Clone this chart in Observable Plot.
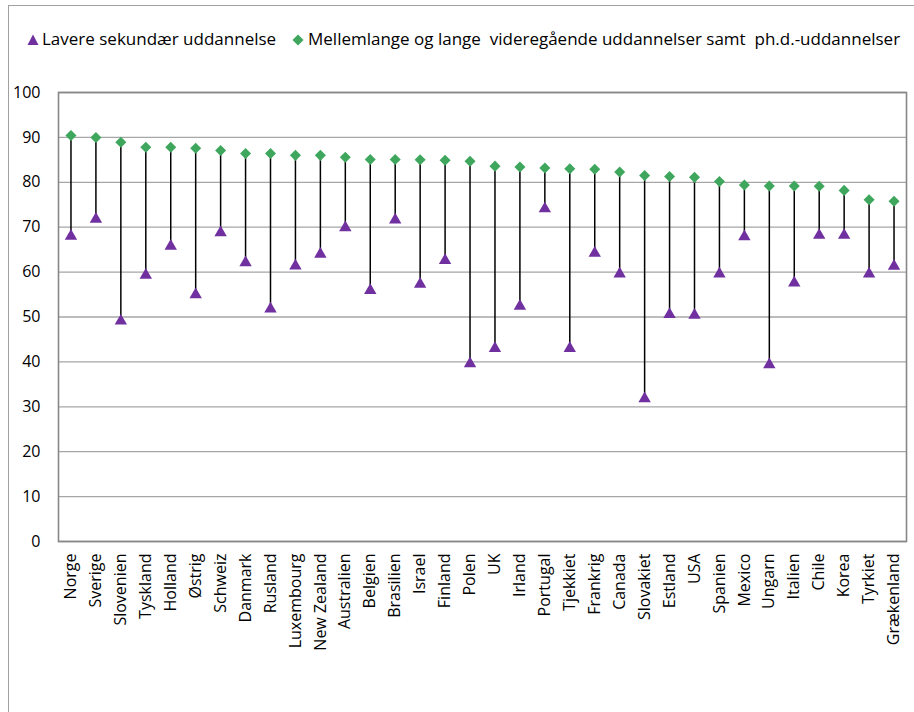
<!DOCTYPE html>
<html>
<head>
<meta charset="utf-8">
<script src="https://cdn.jsdelivr.net/npm/d3@7"></script>
<script src="https://cdn.jsdelivr.net/npm/@observablehq/plot@0.6"></script>
<style>
  html, body { margin: 0; padding: 0; background: white; }
  #wrap { position: relative; width: 914px; height: 712px; overflow: hidden; font-family: "Open Sans", sans-serif; }
  #border { position: absolute; left: 8px; top: 5px; right: -2px; bottom: -2px; border-left: 1px solid #a0a0a0; border-top: 1px solid #a0a0a0; }
  #legend { position: absolute; left: 0; top: 0; width: 914px; height: 70px; font-size: 17px; color: #000; }
  .lg { position: absolute; top: 28px; line-height: 22px; white-space: pre; }
  .mk { position: absolute; }
  #chart { position: absolute; left: 0; top: 70px; }
</style>
</head>
<body>
<div id="wrap">
  <div id="border"></div>
  <div id="legend"></div>
  <div id="chart"></div>
</div>
<script>
const countries = ["Norge","Sverige","Slovenien","Tyskland","Holland","Østrig","Schweiz","Danmark","Rusland","Luxembourg","New Zealand","Australien","Belgien","Brasilien","Israel","Finland","Polen","UK","Irland","Portugal","Tjekkiet","Frankrig","Canada","Slovakiet","Estland","USA","Spanien","Mexico","Ungarn","Italien","Chile","Korea","Tyrkiet","Grækenland"];
const lowerSecondary = [68.0,71.8,49.1,59.3,65.8,55.0,68.8,62.1,51.8,61.4,64.0,69.9,55.9,71.6,57.3,62.6,39.6,43.0,52.4,74.1,43.0,64.2,59.6,31.8,50.6,50.4,59.6,67.9,39.4,57.6,68.2,68.2,59.6,61.3];
const tertiary = [90.4,90.0,88.9,87.8,87.8,87.6,87.1,86.4,86.4,86.0,86.0,85.6,85.1,85.1,85.0,84.9,84.7,83.6,83.4,83.2,83.0,82.9,82.3,81.5,81.3,81.1,80.2,79.4,79.2,79.2,79.1,78.2,76.1,75.8];
const yTicks = [0,10,20,30,40,50,60,70,80,90,100];
const seriesNames = ["Lavere sekundær uddannelse","Mellemlange og lange  videregående uddannelser samt  ph.d.-uddannelser"];
const colors = ["#7030a0","#3fa75d"];

const data = countries.map((c, i) => ({country: c, lower: lowerSecondary[i], higher: tertiary[i]}));

const chart = Plot.plot({
  width: 914,
  height: 642,
  marginTop: 22,
  marginBottom: 171,
  marginLeft: 58,
  marginRight: 8,
  style: {fontFamily: "Open Sans, sans-serif", fontSize: "16px", color: "#000", background: "transparent", overflow: "visible"},
  x: {type: "point", domain: countries, padding: 0.5, label: null},
  y: {domain: [0, 100], label: null},
  marks: [
    Plot.gridY(yTicks, {stroke: "#a6a6a6", strokeOpacity: 1, strokeWidth: 1.3}),
    Plot.frame({stroke: "#878787", strokeWidth: 1.6}),
    Plot.axisY(yTicks, {tickSize: 0, tickPadding: 18, fontSize: 16, label: null}),
    Plot.axisX({tickSize: 0, tickRotate: -90, tickPadding: 12, fontSize: 16, label: null}),
    Plot.ruleX(data, {x: "country", y1: "lower", y2: "higher", stroke: "#000", strokeWidth: 1.5}),
    Plot.dot(data, {x: "country", y: "lower", symbol: "triangle", r: 4.6, fill: colors[0], stroke: "none"}),
    Plot.dot(data, {x: "country", y: "higher", symbol: "square", r: 4.4, rotate: 45, fill: colors[1], stroke: "none"})
  ]
});
document.getElementById("chart").appendChild(chart);

// legend
const legend = document.getElementById("legend");
const items = [
  {name: seriesNames[0], color: colors[0], sym: "tri", mx: 27, tx: 42},
  {name: seriesNames[1], color: colors[1], sym: "dia", mx: 292, tx: 308}
];
items.forEach(it => {
  const svgNS = "http://www.w3.org/2000/svg";
  const s = document.createElementNS(svgNS, "svg");
  s.setAttribute("width", 12); s.setAttribute("height", 12);
  s.setAttribute("class", "mk");
  s.style.left = it.mx + "px"; s.style.top = "34px";
  const p = document.createElementNS(svgNS, "path");
  p.setAttribute("d", it.sym === "tri" ? "M6,0.5L11.5,11L0.5,11Z" : "M6,0.5L11.5,6L6,11.5L0.5,6Z");
  p.setAttribute("fill", it.color);
  s.appendChild(p);
  legend.appendChild(s);
  const t = document.createElement("div");
  t.className = "lg";
  t.style.left = it.tx + "px";
  t.textContent = it.name;
  legend.appendChild(t);
});
</script>
</body>
</html>
